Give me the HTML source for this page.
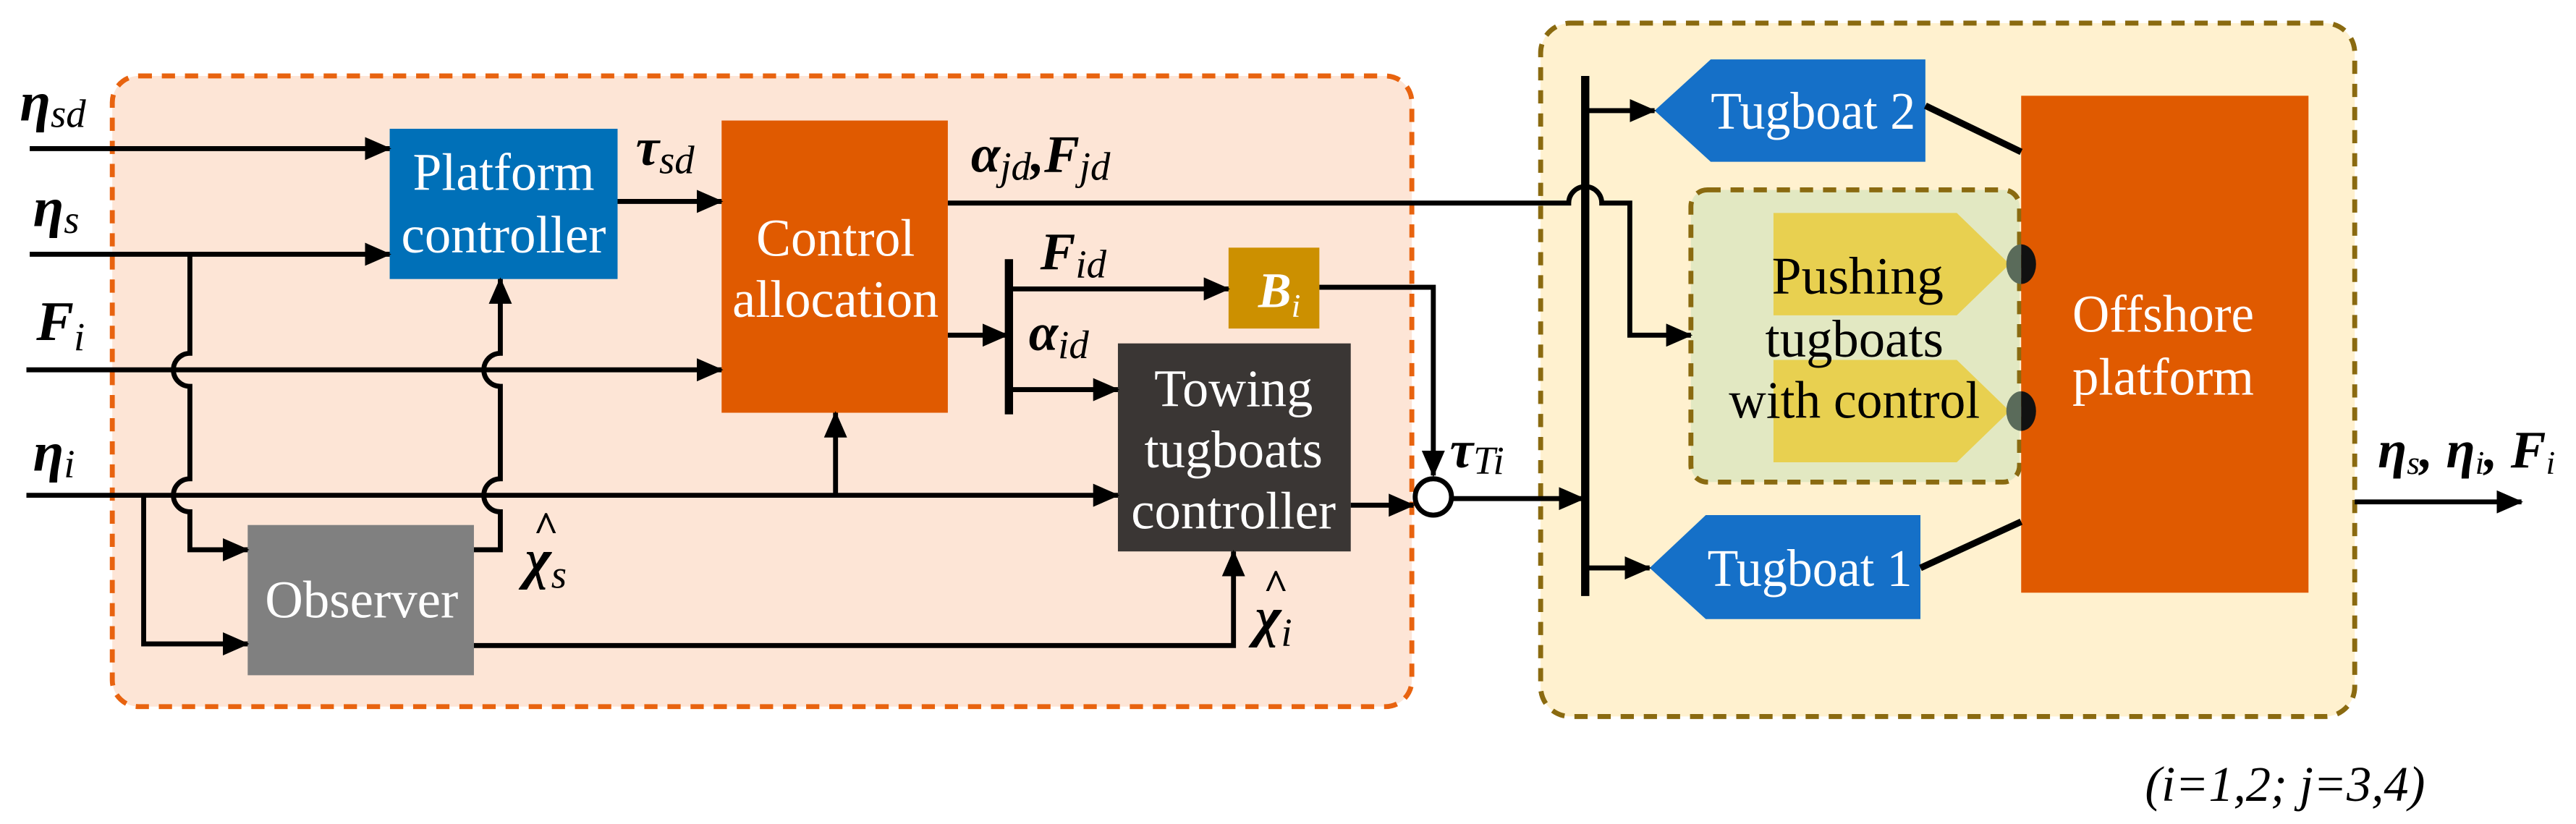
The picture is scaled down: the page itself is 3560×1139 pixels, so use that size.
<!DOCTYPE html>
<html><head><meta charset="utf-8"><style>
html,body{margin:0;padding:0;background:#fff;}
svg{display:block;}
svg text{font-family:"Liberation Serif","Times New Roman",Times,"DejaVu Serif",serif;}
</style></head><body>
<svg width="3560" height="1139" viewBox="0 0 1560 499.1" preserveAspectRatio="none" xmlns="http://www.w3.org/2000/svg">
<defs>
<marker id="a" markerUnits="userSpaceOnUse" markerWidth="16" markerHeight="14" refX="15" refY="7" orient="auto"><path d="M0,0 L16,7 L0,14 Z" fill="#000"/></marker>
</defs>
<rect x="68" y="46" width="787" height="382" rx="16" fill="#fde5d6" stroke="#e8630f" stroke-width="3" stroke-dasharray="8,6"/>
<rect x="933" y="14" width="493" height="420" rx="18" fill="#fff1cf" stroke="#8a6a10" stroke-width="3" stroke-dasharray="8,6"/>
<rect x="236" y="78" width="138" height="91" fill="#0070b8"/>
<rect x="437" y="73" width="137" height="177" fill="#e05a00"/>
<rect x="744" y="150" width="55" height="49" fill="#cc9000"/>
<rect x="677" y="208" width="141" height="126" fill="#3a3634"/>
<rect x="150" y="318" width="137" height="91" fill="#808080"/>
<rect x="1024" y="115" width="199" height="177" rx="10" fill="#e2e8c2" stroke="#8a6a10" stroke-width="3" stroke-dasharray="8,6"/>
<polygon points="1074,129 1185,129 1217,160 1185,191 1074,191" fill="#e8d050"/>
<polygon points="1074,218 1185,218 1217,249 1185,280 1074,280" fill="#e8d050"/>
<rect x="1224" y="58" width="174" height="301" fill="#e05a00"/>
<path d="M1224,148 A9,12 0 0 0 1224,172 Z" fill="#5a6b5a"/>
<path d="M1224,148 A9,12 0 0 1 1224,172 Z" fill="#111"/>
<path d="M1224,237 A9,12 0 0 0 1224,261 Z" fill="#5a6b5a"/>
<path d="M1224,237 A9,12 0 0 1 1224,261 Z" fill="#111"/>
<polygon points="1036,36 1166,36 1166,98 1036,98 1002,67" fill="#1570c8"/>
<polygon points="1033,312 1163,312 1163,375 1033,375 999,344" fill="#1570c8"/>
<g stroke="#000" stroke-width="4" fill="none">
<line x1="1166" y1="64" x2="1224" y2="92"/>
<line x1="1163" y1="344" x2="1224" y2="316"/>
</g>
<g stroke="#000" stroke-width="3" fill="none">
<line x1="18" y1="90" x2="236" y2="90" marker-end="url(#a)"/>
<line x1="18" y1="154" x2="236" y2="154" marker-end="url(#a)"/>
<line x1="16" y1="224" x2="437" y2="224" marker-end="url(#a)"/>
<line x1="16" y1="300" x2="677" y2="300" marker-end="url(#a)"/>
<path d="M115,154 V214 A10,10 0 0 0 115,234 V290 A10,10 0 0 0 115,310 V333 H150" marker-end="url(#a)"/>
<path d="M87,300 V390 H150" marker-end="url(#a)"/>
<path d="M287,333 H303 V310 A10,10 0 0 1 303,290 V234 A10,10 0 0 1 303,214 V169" marker-end="url(#a)"/>
<path d="M287,391 H747 V334" marker-end="url(#a)"/>
<path d="M506,300 V250" marker-end="url(#a)"/>
<line x1="374" y1="122" x2="437" y2="122" marker-end="url(#a)"/>
<line x1="574" y1="203" x2="610" y2="203" marker-end="url(#a)"/>
<line x1="611" y1="175" x2="744" y2="175" marker-end="url(#a)"/>
<line x1="611" y1="236" x2="677" y2="236" marker-end="url(#a)"/>
<path d="M799,174 H868 V288" marker-end="url(#a)"/>
<line x1="818" y1="306" x2="856" y2="306" marker-end="url(#a)"/>
<line x1="880" y1="302" x2="959" y2="302" marker-end="url(#a)"/>
<path d="M574,123 H950 A10,10 0 0 1 970,123 H987 V203 H1024" marker-end="url(#a)"/>
<line x1="960" y1="67" x2="1002" y2="67" marker-end="url(#a)"/>
<line x1="960" y1="344" x2="999" y2="344" marker-end="url(#a)"/>
<line x1="1426" y1="304" x2="1527" y2="304" marker-end="url(#a)"/>
</g>
<line x1="611" y1="157" x2="611" y2="251" stroke="#000" stroke-width="5"/>
<line x1="960" y1="46" x2="960" y2="361" stroke="#000" stroke-width="5"/>
<circle cx="868" cy="301" r="11" fill="#fff" stroke="#000" stroke-width="3"/>
<g fill="#fff" font-size="32" text-anchor="middle">
<text x="305" y="115" textLength="110" lengthAdjust="spacingAndGlyphs">Platform</text>
<text x="305" y="153" textLength="124" lengthAdjust="spacingAndGlyphs">controller</text>
<text x="506" y="155" textLength="96" lengthAdjust="spacingAndGlyphs">Control</text>
<text x="506" y="192" textLength="125" lengthAdjust="spacingAndGlyphs">allocation</text>
<text x="747" y="246" textLength="96" lengthAdjust="spacingAndGlyphs">Towing</text>
<text x="747" y="283" textLength="108" lengthAdjust="spacingAndGlyphs">tugboats</text>
<text x="747" y="320" textLength="124" lengthAdjust="spacingAndGlyphs">controller</text>
<text x="219" y="374" textLength="117" lengthAdjust="spacingAndGlyphs">Observer</text>
<text x="1098" y="78" textLength="124" lengthAdjust="spacingAndGlyphs">Tugboat 2</text>
<text x="1096" y="355" textLength="124" lengthAdjust="spacingAndGlyphs">Tugboat 1</text>
<text x="1310" y="201" textLength="110" lengthAdjust="spacingAndGlyphs">Offshore</text>
<text x="1310" y="239" textLength="110" lengthAdjust="spacingAndGlyphs">platform</text>
</g>
<g fill="#000" font-size="32" text-anchor="middle">
<text x="1125" y="178" textLength="104" lengthAdjust="spacingAndGlyphs">Pushing</text>
<text x="1123" y="216" textLength="108" lengthAdjust="spacingAndGlyphs">tugboats</text>
<text x="1123" y="253" textLength="152" lengthAdjust="spacingAndGlyphs">with control</text>
</g>
<g font-style="italic">
<text x="762" y="186" font-weight="bold" font-size="30" fill="#fff">B<tspan font-weight="normal" font-size="20" dy="6">i</tspan></text>
<g fill="#000">
<text x="12" y="73" font-weight="bold" font-size="34">η<tspan font-weight="normal" font-size="24" dy="4">sd</tspan></text>
<text x="20" y="137" font-weight="bold" font-size="34">η<tspan font-weight="normal" font-size="24" dy="4">s</tspan></text>
<text x="22" y="206" font-weight="bold" font-size="34">F<tspan font-weight="normal" font-size="24" dy="6">i</tspan></text>
<text x="20" y="285" font-weight="bold" font-size="34">η<tspan font-weight="normal" font-size="24" dy="4">i</tspan></text>
<text x="385" y="100" font-weight="bold" font-size="32">τ<tspan font-weight="normal" font-size="24" dy="5">sd</tspan></text>
<text x="588" y="104" font-weight="bold" font-size="32">α<tspan font-weight="normal" font-size="24" dy="5">jd</tspan><tspan dy="-5">,F</tspan><tspan font-weight="normal" font-size="24" dy="5">jd</tspan></text>
<text x="630" y="163" font-weight="bold" font-size="32">F<tspan font-weight="normal" font-size="24" dy="5">id</tspan></text>
<text x="623" y="212" font-weight="bold" font-size="32">α<tspan font-weight="normal" font-size="24" dy="5">id</tspan></text>
<text x="318" y="350" font-weight="bold" font-size="34">χ<tspan font-weight="normal" font-size="24" dy="6">s</tspan></text>
<text x="323" y="328" font-weight="bold" font-size="26">^</text>
<text x="760" y="385" font-weight="bold" font-size="34">χ<tspan font-weight="normal" font-size="24" dy="6">i</tspan></text>
<text x="765" y="363" font-weight="bold" font-size="26">^</text>
<text x="878" y="283" font-weight="bold" font-size="32">τ<tspan font-weight="normal" font-size="24" dy="4">Ti</tspan></text>
<text x="1440" y="283" font-weight="bold" font-size="32">η<tspan font-weight="normal" font-size="20" dy="4">s</tspan><tspan dy="-4">, η</tspan><tspan font-weight="normal" font-size="20" dy="4">i</tspan><tspan dy="-4">, F</tspan><tspan font-weight="normal" font-size="20" dy="4">i</tspan></text>
<text x="1299" y="485" font-size="30">(i=1,2; j=3,4)</text>
</g>
</g>
</svg>
</body></html>
